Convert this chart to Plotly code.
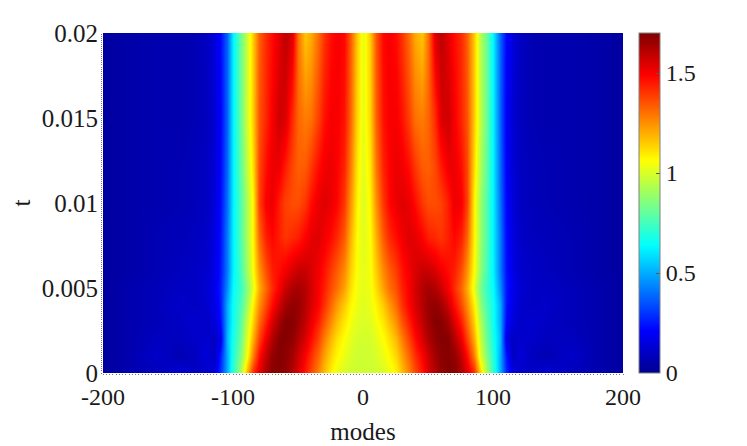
import plotly.graph_objects as go

# half of the mode axis, the picture is mirrored about mode 0
modes_half = [0, 5, 10, 15, 20, 25, 30, 35, 40, 45, 50, 55, 60, 65, 70, 75, 80, 85, 90, 95,
              100, 105, 110, 115, 120, 130, 140, 160, 180, 200]
times = [0, 0.001, 0.002, 0.003, 0.004, 0.005, 0.006, 0.008, 0.010, 0.012, 0.015, 0.0202]

row_t000 = [0.98, 0.98, 0.98, 1.00, 1.03, 1.08, 1.17, 1.27, 1.37, 1.45, 1.55, 1.62, 1.67, 1.69, 1.69, 1.63, 1.54, 1.42, 1.15, 0.90, 0.72, 0.50, 0.28, 0.15, 0.11, 0.10, 0.13, 0.08, 0.06, 0.03]
row_t001 = [0.98, 0.98, 1.00, 1.03, 1.07, 1.13, 1.22, 1.32, 1.41, 1.49, 1.57, 1.64, 1.68, 1.69, 1.67, 1.59, 1.47, 1.28, 1.02, 0.84, 0.70, 0.50, 0.25, 0.09, 0.14, 0.09, 0.07, 0.11, 0.06, 0.03]
row_t002 = [0.99, 0.99, 1.02, 1.06, 1.11, 1.18, 1.28, 1.38, 1.47, 1.55, 1.62, 1.67, 1.69, 1.69, 1.62, 1.52, 1.38, 1.20, 0.98, 0.80, 0.68, 0.52, 0.16, 0.10, 0.12, 0.11, 0.09, 0.09, 0.06, 0.03]
row_t003 = [1.00, 1.01, 1.05, 1.10, 1.17, 1.25, 1.35, 1.44, 1.52, 1.59, 1.65, 1.69, 1.69, 1.64, 1.55, 1.44, 1.31, 1.14, 0.94, 0.78, 0.66, 0.50, 0.22, 0.14, 0.11, 0.12, 0.10, 0.08, 0.06, 0.03]
row_t004 = [1.01, 1.03, 1.08, 1.15, 1.23, 1.31, 1.41, 1.49, 1.55, 1.61, 1.66, 1.67, 1.64, 1.57, 1.47, 1.37, 1.25, 1.09, 0.88, 0.75, 0.66, 0.50, 0.24, 0.16, 0.12, 0.10, 0.11, 0.08, 0.06, 0.03]
row_t005 = [1.02, 1.04, 1.12, 1.22, 1.30, 1.36, 1.44, 1.50, 1.56, 1.61, 1.64, 1.62, 1.57, 1.50, 1.42, 1.32, 1.20, 1.02, 0.84, 0.72, 0.64, 0.45, 0.25, 0.17, 0.13, 0.10, 0.10, 0.08, 0.06, 0.03]
row_t006 = [1.02, 1.05, 1.15, 1.26, 1.33, 1.39, 1.46, 1.51, 1.55, 1.58, 1.58, 1.55, 1.51, 1.47, 1.44, 1.36, 1.24, 1.06, 0.88, 0.74, 0.62, 0.42, 0.24, 0.16, 0.12, 0.10, 0.09, 0.07, 0.05, 0.03]
row_t008 = [1.01, 1.06, 1.20, 1.34, 1.42, 1.47, 1.51, 1.54, 1.53, 1.49, 1.44, 1.42, 1.40, 1.44, 1.48, 1.44, 1.32, 1.08, 0.90, 0.76, 0.62, 0.42, 0.23, 0.15, 0.11, 0.09, 0.08, 0.07, 0.05, 0.03]
row_t010 = [1.00, 1.08, 1.25, 1.40, 1.48, 1.52, 1.54, 1.52, 1.47, 1.40, 1.36, 1.36, 1.38, 1.44, 1.52, 1.50, 1.38, 1.08, 0.90, 0.76, 0.62, 0.40, 0.22, 0.14, 0.10, 0.08, 0.07, 0.06, 0.05, 0.03]
row_t012 = [1.01, 1.10, 1.29, 1.43, 1.49, 1.52, 1.51, 1.47, 1.40, 1.34, 1.33, 1.37, 1.44, 1.51, 1.52, 1.47, 1.37, 1.12, 0.93, 0.78, 0.62, 0.39, 0.21, 0.13, 0.10, 0.08, 0.07, 0.06, 0.05, 0.03]
row_t015 = [1.02, 1.13, 1.33, 1.46, 1.50, 1.50, 1.46, 1.38, 1.30, 1.28, 1.32, 1.42, 1.55, 1.57, 1.50, 1.43, 1.35, 1.15, 0.96, 0.80, 0.62, 0.38, 0.20, 0.13, 0.09, 0.07, 0.06, 0.06, 0.05, 0.03]
row_t020 = [1.02, 1.15, 1.35, 1.48, 1.50, 1.47, 1.40, 1.30, 1.20, 1.15, 1.30, 1.55, 1.60, 1.53, 1.47, 1.42, 1.33, 1.15, 0.95, 0.80, 0.62, 0.38, 0.22, 0.14, 0.10, 0.07, 0.06, 0.06, 0.05, 0.03]

half_rows = [row_t000, row_t001, row_t002, row_t003, row_t004, row_t005, row_t006,
             row_t008, row_t010, row_t012, row_t015, row_t020]

x_ticks = [-200, -100, 0, 100, 200]
y_ticks = [0, 0.005, 0.01, 0.015, 0.02]
y_labels = ["0", "0.005", "0.01", "0.015", "0.02"]
bar_ticks = [0, 0.5, 1, 1.5]
bar_labels = ["0", "0.5", "1", "1.5"]

modes = [-m for m in modes_half[:0:-1]] + modes_half
z = [row[:0:-1] + row for row in half_rows]

jet = [
    [0, "rgb(0,0,143)"],
    [0.125, "rgb(0,0,255)"],
    [0.375, "rgb(0,255,255)"],
    [0.625, "rgb(255,255,0)"],
    [0.875, "rgb(255,0,0)"],
    [1, "rgb(128,0,0)"],
]

FONT = "Liberation Serif"
INK = "#1a1a1a"

fig = go.Figure(
    go.Heatmap(
        x=modes,
        y=times,
        z=z,
        zmin=0,
        zmax=1.7,
        zsmooth="best",
        colorscale=jet,
        colorbar=dict(
            x=1.03,
            xanchor="left",
            y=0,
            yanchor="bottom",
            thickness=21,
            thicknessmode="pixels",
            len=1,
            lenmode="fraction",
            xpad=0,
            ypad=0,
            outlinecolor="#808080",
            outlinewidth=1,
            tickmode="array",
            tickvals=bar_ticks,
            ticktext=bar_labels,
            ticks="inside",
            ticklen=4,
            tickcolor="#555555",
            tickfont=dict(family=FONT, size=24, color=INK),
        ),
    )
)

fig.update_xaxes(
    range=[-200, 200],
    tickmode="array",
    tickvals=x_ticks,
    ticktext=["-200", "-100", "0", "100", "200"],
    ticks="",
    ticklabelstandoff=7,
    automargin=False,
    showgrid=False,
    zeroline=False,
    showline=False,
    minor=dict(ticks="outside", ticklen=1, tickwidth=1, tickcolor="#777777", dtick=2.5, showgrid=False),
    tickfont=dict(family=FONT, size=24, color=INK),
    title=dict(text="modes", font=dict(family=FONT, size=25, color=INK), standoff=13),
)
fig.update_yaxes(
    range=[0, 0.02],
    tickmode="array",
    tickvals=y_ticks,
    ticktext=y_labels,
    ticks="",
    ticklabelstandoff=4,
    automargin=False,
    showgrid=False,
    zeroline=False,
    showline=False,
    minor=dict(ticks="outside", ticklen=1, tickwidth=1, tickcolor="#777777", dtick=0.00012, showgrid=False),
    tickfont=dict(family=FONT, size=25, color=INK),
    title=dict(text="t", font=dict(family=FONT, size=25, color=INK), standoff=10),
)
# the page adds an 8 px body margin, so the margins here are 8 px short of the picture's
fig.update_layout(
    width=739,
    height=438,
    margin=dict(l=95, r=123.5, t=25, b=73),
    plot_bgcolor="white",
    paper_bgcolor="white",
)

fig.write_html("out.html")
